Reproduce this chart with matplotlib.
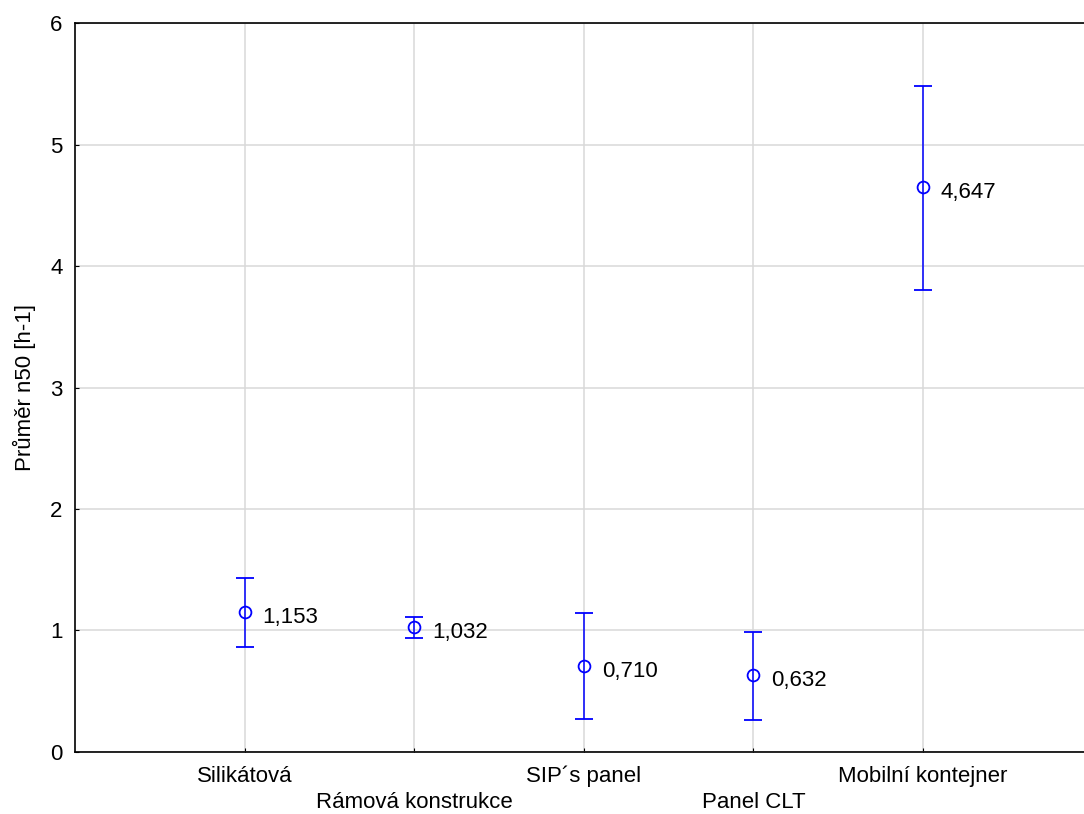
import matplotlib.pyplot as plt

plt.rcParams['font.family'] = ['Liberation Sans', 'DejaVu Sans']

# kategorie a hodnoty
categories = ["Silikátová", "Rámová konstrukce", "SIP´s panel", "Panel CLT", "Mobilní kontejner"]
means = [1.153, 1.032, 0.710, 0.632, 4.647]
upper = [1.435, 1.113, 1.141, 0.988, 5.484]
lower = [0.862, 0.941, 0.269, 0.261, 3.805]
labels = ["1,153", "1,032", "0,710", "0,632", "4,647"]

x = list(range(len(categories)))
err_lo = [m - l for m, l in zip(means, lower)]
err_hi = [u - m for m, u in zip(means, upper)]

fig = plt.figure(figsize=(10.84, 8.14), dpi=100)
ax = fig.add_axes([0.0692, 0.0762, 0.9308, 0.8955])

ax.errorbar(x, means, yerr=[err_lo, err_hi], fmt='o', color='#0000ff',
            mfc='none', mec='#0000ff', ms=8.5, mew=1.3, elinewidth=1.1,
            capsize=6.2, capthick=1.1, zorder=3)

for xi, m, t in zip(x, means, labels):
    ax.annotate(t, (xi, m), xytext=(13, -4), textcoords='offset points',
                ha='left', va='center', fontsize=16)

ax.set_xlim(-1, 4.95)
ax.set_ylim(0, 6)
ax.set_xticks(x)
ax.set_xticklabels([c if i % 2 == 0 else "\n" + c for i, c in enumerate(categories)],
                   fontsize=16, linespacing=1.35)
ax.set_yticks(range(7))
ax.tick_params(axis='both', direction='in', length=3, labelsize=16)
ax.tick_params(axis='x', pad=10)
ax.tick_params(axis='y', pad=9)
ax.set_ylabel("Průměr n50 [h-1]", fontsize=16, labelpad=10)

ax.grid(True, color='#d9d9d9', linewidth=1.1, zorder=0)
ax.set_axisbelow(True)
ax.spines['right'].set_visible(False)
for s in ['left', 'bottom', 'top']:
    ax.spines[s].set_linewidth(1.2)

plt.savefig("out.png", dpi=100)
